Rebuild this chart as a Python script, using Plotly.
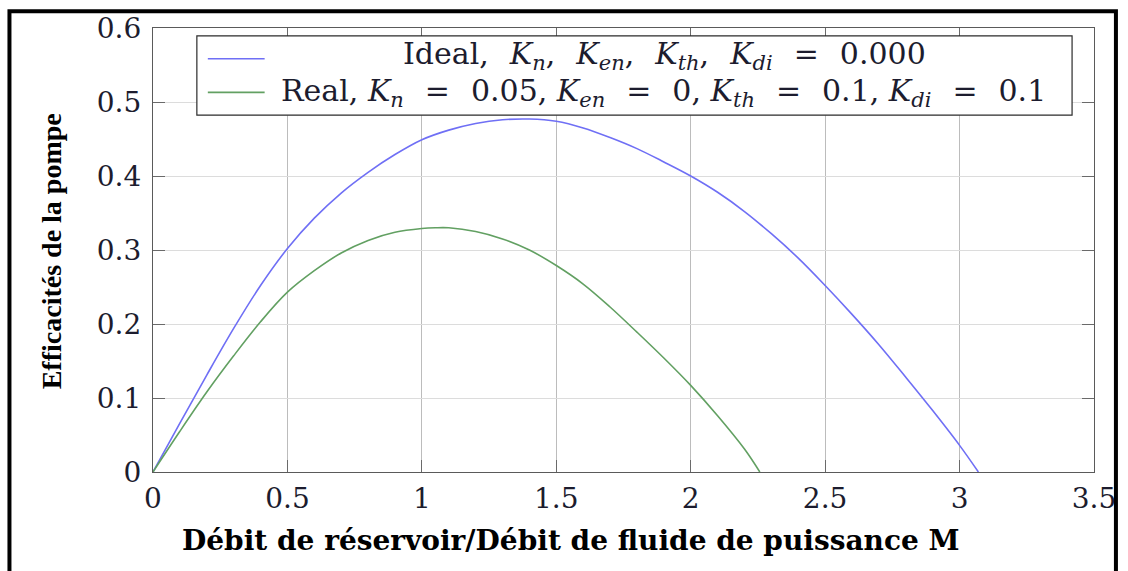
import plotly.graph_objects as go

# Flow ratio M (reservoir flow / power-fluid flow) and pump efficiency
ideal_m = [0.0, 0.1, 0.2, 0.3, 0.4, 0.5, 0.6, 0.7, 0.8, 0.9, 1.0, 1.1, 1.2, 1.3,
           1.4, 1.5, 1.6, 1.7, 1.8, 1.9, 2.0, 2.1, 2.2, 2.3, 2.4, 2.5, 2.6, 2.7,
           2.8, 2.9, 3.0, 3.07]
ideal_eta = [0.0, 0.066, 0.131, 0.194, 0.252, 0.302, 0.343, 0.377, 0.405, 0.429,
             0.449, 0.462, 0.471, 0.476, 0.477, 0.474, 0.465, 0.452, 0.437, 0.419,
             0.400, 0.378, 0.352, 0.322, 0.289, 0.252, 0.213, 0.172, 0.128, 0.083,
             0.036, 0.0]

real_m = [0.0, 0.1, 0.2, 0.3, 0.4, 0.5, 0.6, 0.7, 0.8, 0.9, 1.0, 1.05, 1.1, 1.2,
          1.3, 1.4, 1.5, 1.6, 1.7, 1.8, 1.9, 2.0, 2.1, 2.2, 2.257]
real_eta = [0.0, 0.055, 0.108, 0.157, 0.203, 0.243, 0.272, 0.296, 0.313, 0.324,
            0.329, 0.330, 0.330, 0.325, 0.315, 0.300, 0.279, 0.254, 0.223, 0.189,
            0.154, 0.117, 0.076, 0.031, 0.0]

x_ticks = [0, 0.5, 1, 1.5, 2, 2.5, 3, 3.5]
x_tick_text = ["0", "0.5", "1", "1.5", "2", "2.5", "3", "3.5"]
y_ticks = [0, 0.1, 0.2, 0.3, 0.4, 0.5, 0.6]
y_tick_text = ["0", "0.1", "0.2", "0.3", "0.4", "0.5", "0.6"]

GAP = "\u2002\u2009"  # en space + thin space, math-style spacing


def k(sub):
    return f"<i>K</i><sub><i>{sub}</i></sub>"


ideal_label = (f"Ideal,{GAP}{k('n')},{GAP}{k('en')},{GAP}{k('th')},{GAP}{k('di')}"
               f"{GAP}={GAP}0.000")
real_label = (f"Real, {k('n')}{GAP}={GAP}0.05, {k('en')}{GAP}={GAP}0, "
              f"{k('th')}{GAP}={GAP}0.1, {k('di')}{GAP}={GAP}0.1")
x_title = "Débit de réservoir/Débit de fluide de puissance M"

BLUE = "#6f6ff5"
GREEN = "#62a062"
SERIF = "DejaVu Serif"
TIMES = "Liberation Serif"

W, H = 1128, 571
L, R, T, B = 153, 1097, 24, 472  # plot-area pixel bounds


def px(xp):
    return (xp - L) / (R - L)


def py(yp):
    return (B - yp) / (B - T)


fig = go.Figure()
fig.add_trace(go.Scatter(x=ideal_m, y=ideal_eta, mode="lines", name="Ideal",
                         line=dict(color=BLUE, width=1.6, shape="spline", smoothing=1.0)))
fig.add_trace(go.Scatter(x=real_m, y=real_eta, mode="lines", name="Real",
                         line=dict(color=GREEN, width=1.6, shape="spline", smoothing=1.0)))

axis_common = dict(showline=True, linecolor="#5a5a5a", linewidth=1.2, mirror="ticks",
                   ticks="inside", ticklen=12, tickcolor="#6a6a6a", tickwidth=1,
                   zeroline=False,
                   tickfont=dict(family=SERIF, size=28, color="#1c1c2e"))

fig.update_xaxes(range=[0, 3.5], tickvals=x_ticks, ticktext=x_tick_text,
                 showgrid=True, gridcolor="#bcbcbc", gridwidth=1,
                 ticklabelstandoff=1, **axis_common)
fig.update_yaxes(range=[0, 0.6], tickvals=y_ticks, ticktext=y_tick_text,
                 showgrid=True, gridcolor="#dcdcdc", gridwidth=1,
                 ticklabelstandoff=5, **axis_common)

shapes = []
# outer frame around the whole figure
shapes.append(dict(type="rect", xref="paper", yref="paper",
                   x0=px(9), x1=px(1119), y0=py(620), y1=py(7),
                   line=dict(color="black", width=4), fillcolor="rgba(0,0,0,0)", layer="above"))
# legend box
shapes.append(dict(type="rect", xref="paper", yref="paper",
                   x0=px(197), x1=px(1075), y0=py(112), y1=py(32),
                   line=dict(color="#2b2b2b", width=1.2), fillcolor="white", layer="above"))
# legend line samples
for color, yrow in [(BLUE, 55), (GREEN, 89)]:
    shapes.append(dict(type="line", xref="paper", yref="paper",
                       x0=px(208), x1=px(265), y0=py(yrow), y1=py(yrow),
                       line=dict(color=color, width=1.6), layer="above"))

annotations = [
    dict(text=ideal_label, xref="paper", yref="paper", x=px(666), y=py(52),
         xanchor="center", yanchor="middle", showarrow=False,
         font=dict(family=SERIF, size=30, color="#1c1c2e")),
    dict(text=real_label, xref="paper", yref="paper", x=px(665), y=py(89),
         xanchor="center", yanchor="middle", showarrow=False,
         font=dict(family=SERIF, size=30, color="#1c1c2e")),
    dict(text=f"<b>{x_title}</b>",
         xref="paper", yref="paper", x=px(572), y=py(541),
         xanchor="center", yanchor="middle", showarrow=False,
         font=dict(family=SERIF, size=28, color="black")),
    dict(text="<b>Efficacités de la pompe</b>", textangle=-90,
         xref="paper", yref="paper", x=px(52), y=py(249),
         xanchor="center", yanchor="middle", showarrow=False,
         font=dict(family=TIMES, size=28, color="black")),
]

fig.update_layout(width=W, height=H, margin=dict(l=L, r=W - R, t=T, b=H - B),
                  paper_bgcolor="white", plot_bgcolor="white",
                  showlegend=False, shapes=shapes, annotations=annotations)

fig.write_html("out.html")
